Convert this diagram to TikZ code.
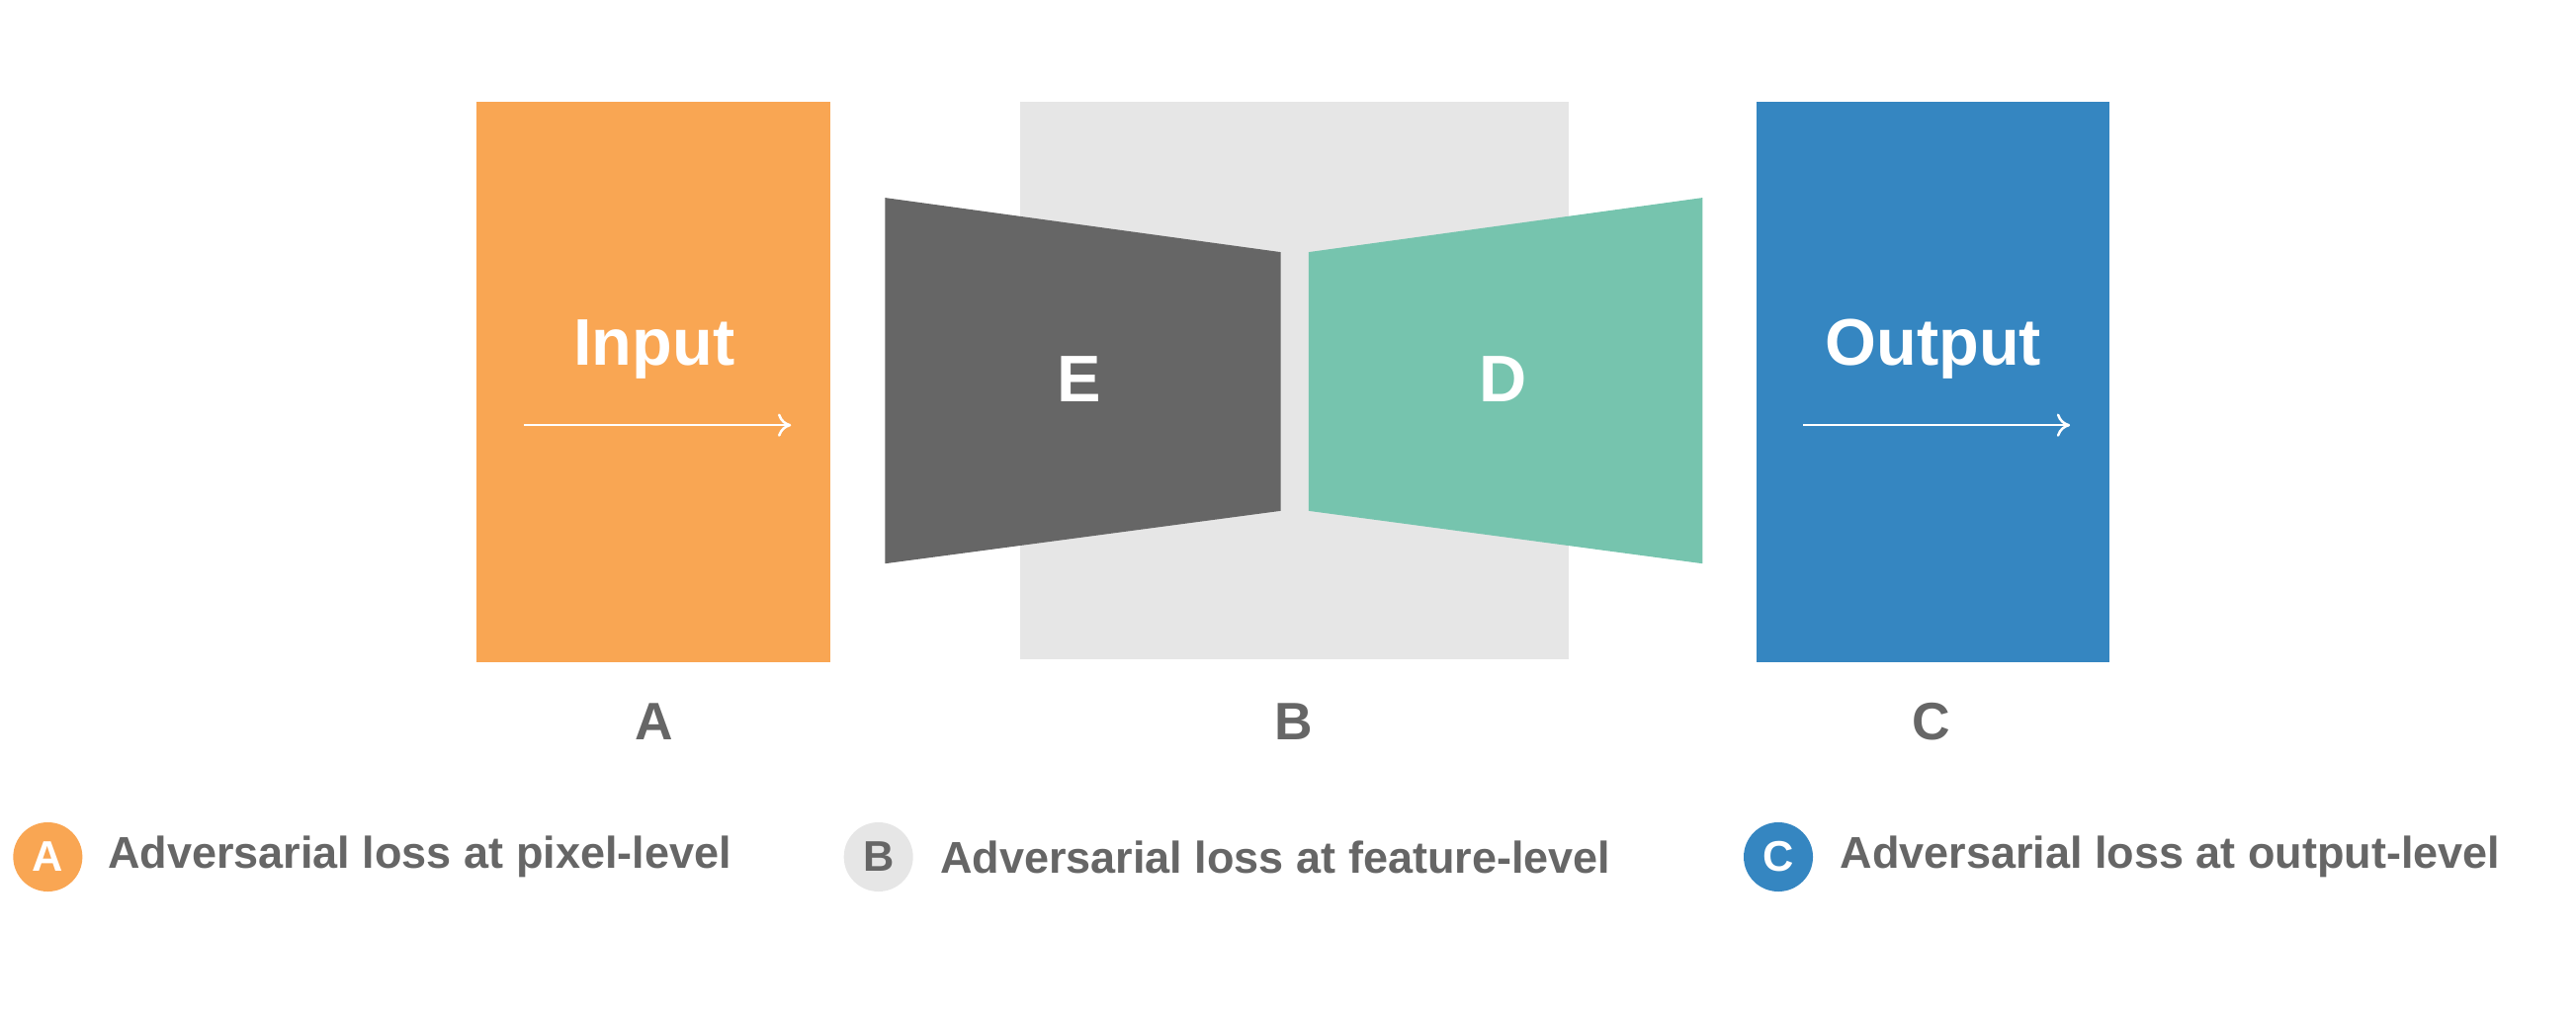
\documentclass[tikz,border=0pt]{standalone}
\usepackage{fontspec}
\setmainfont{Liberation Sans}
\usetikzlibrary{positioning,arrows.meta}
\definecolor{inorange}{HTML}{F9A653}
\definecolor{featgray}{HTML}{E6E6E6}
\definecolor{encgray}{HTML}{666666}
\definecolor{decgreen}{HTML}{76C4AE}
\definecolor{outblue}{HTML}{3586C1}
\definecolor{labgray}{HTML}{666666}
\tikzset{every picture/.style={line width=1pt},
  bigtext/.style={text=white,font=\fontsize{40}{44}\selectfont\bfseries},
  letter/.style={text=labgray,font=\fontsize{32}{36}\selectfont\bfseries},
  legend/.style={text=labgray,font=\fontsize{27}{32}\selectfont\bfseries,anchor=west,inner sep=0pt},
  badge/.style={circle,minimum size=42pt,inner sep=0pt,font=\fontsize{26}{30}\selectfont\bfseries},
  flow/.style={white,line width=1.5pt,-{To[length=8pt,width=14pt]}}}
\begin{document}
\begin{tikzpicture}[x=1pt,y=1pt,yscale=-1]
\useasboundingbox (0,0) rectangle (1563,618);
% blocks
\fill [inorange] (289,62) rectangle (504,402);
\fill [featgray] (619,62) rectangle (952,400);
\fill [encgray] (537,120) -- (777,153) -- (777,310) -- (537,342) -- cycle;
\fill [decgreen] (794,153) -- (1033,120) -- (1033,342) -- (794,310) -- cycle;
\fill [outblue] (1066,62) rectangle (1280,402);
% block texts
\node [bigtext] (input) at (397,212) {Input};
\node [bigtext] (output) at (1173,212) {Output};
\node [bigtext] (enc) at (655,230) {E};
\node [bigtext] (dec) at (912,230) {D};
\coordinate (ia) at (318,258); \coordinate (ib) at (480,258);
\coordinate (oa) at (1094,258); \coordinate (ob) at (1256,258);
\draw [flow] (ia) -- (ib);
\draw [flow] (oa) -- (ob);
% letters
\node [letter] (la) at (397,438) {A};
\node [letter] (lb) at (785,438) {B};
\node [letter] (lc) at (1172,438) {C};
% legend
\node [badge,fill=inorange,text=white] (ba) at (29,520) {A};
\node [legend] (ta) at (65,520) {Adversarial loss at pixel-level};
\node [badge,fill=featgray,text=labgray] (bb) at (533,520) {B};
\node [legend] (tb) at (570,520) {Adversarial loss at feature-level};
\node [badge,fill=outblue,text=white] (bc) at (1079,520) {C};
\node [legend] (tc) at (1116,520) {Adversarial loss at output-level};
\end{tikzpicture}
\end{document}
